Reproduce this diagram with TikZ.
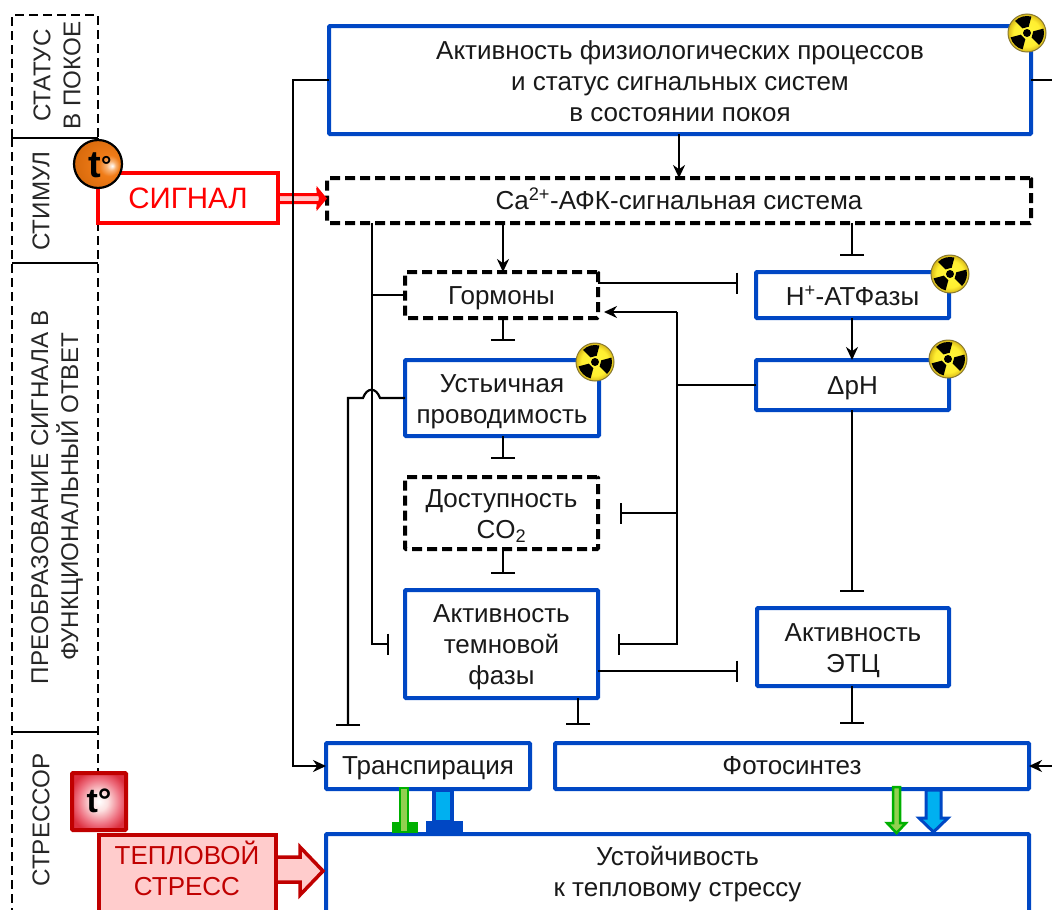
\documentclass[tikz,border=0pt]{standalone}
\usepackage{fontspec}
\setmainfont{Liberation Sans}
\usetikzlibrary{arrows.meta}
\definecolor{bblue}{HTML}{0047C4}
\definecolor{dred}{HTML}{C00000}
\definecolor{lred}{HTML}{FFCCCC}
\definecolor{gr}{HTML}{00B000}
\definecolor{lgr}{HTML}{92D050}
\definecolor{cyanb}{HTML}{00B0F0}
\definecolor{oa}{HTML}{F8B070}
\definecolor{ob}{HTML}{F07C18}
\definecolor{oc}{HTML}{D86A0C}
\definecolor{od}{HTML}{B05206}
\definecolor{ya}{HTML}{FFF83C}
\definecolor{yb}{HTML}{FFEE30}
\definecolor{yc}{HTML}{D8B818}
\definecolor{yd}{HTML}{8A7A30}
\definecolor{ra}{HTML}{FCE0E0}
\definecolor{rb}{HTML}{EE7080}
\definecolor{rc}{HTML}{DC3040}
\pgfdeclareradialshading{orangeball}{\pgfpoint{15bp}{-2bp}}{color(0bp)=(white);color(5bp)=(oa);color(11bp)=(ob);color(30bp)=(oc);color(50bp)=(od)}
\pgfdeclareradialshading{yelball}{\pgfpoint{0bp}{0bp}}{color(0bp)=(ya);color(18bp)=(yb);color(25bp)=(yc);color(50bp)=(yc)}
\pgfdeclareradialshading{redsq}{\pgfpoint{0bp}{0bp}}{color(0bp)=(white);color(8bp)=(ra);color(20bp)=(rb);color(28bp)=(rc);color(50bp)=(rc)}
\newcommand\dn[1]{\rule{0pt}{\dimexpr 18.6pt+#1pt+#1pt\relax}}
\tikzset{
  x=1pt,y=-1pt,
  txt/.style={font=\fontsize{26}{31}\selectfont,align=center,inner sep=0pt,outer sep=0pt,text=black!90},
  bbox/.style={txt,draw=bblue,line width=4pt,rounded corners=1pt},
  dbox/.style={txt,draw=black,line width=4pt,rounded corners=1pt,dash pattern=on 10pt off 5pt},
  link/.style={draw=black,line width=2.2pt},
  arr/.style={link,-{Stealth[length=13pt,width=12pt]}},
  teev/.style={link,-{Bar[width=24pt,line width=2.2pt]}},
  teeh/.style={link,-{Bar[width=21pt,line width=2.2pt]}},
  side/.style={font=\fontsize{24.2}{30}\selectfont,align=center,rotate=90,inner sep=0pt,text=black!85},
  colline/.style={draw=black,line width=1.6pt},
  coldash/.style={colline,dash pattern=on 9pt off 5pt},
  radsym/.pic={
    \begin{scope}[y=1pt]
    \shade[shading=yelball,draw=yd,line width=1pt] (0,0) circle (19);
    \fill[black] (0,0) circle (4);
    \foreach \a in {105,-15,225}{
      \fill[black] (\a-30:6.5) -- (\a-30:17) arc[start angle=\a-30,end angle=\a+30,radius=17] -- (\a+30:6.5) -- cycle;
    }
    \end{scope}
  }
}
\begin{document}
\begin{tikzpicture}
\useasboundingbox (0,0) rectangle (1052,910);
\clip (0,0) rectangle (1052,910);
% left column
\draw[coldash] (12,138) -- (12,15) -- (98,15) -- (98,138);
\draw[coldash] (12,138) -- (12,910);
\draw[coldash] (98,138) -- (98,771);
\draw[colline] (12,138) -- (98,138);
\draw[colline] (12,263) -- (98,263);
\draw[colline] (12,732) -- (98,732);
\node[side] (lab1) at (57,75.5) {СТАТУС\\В ПОКОЕ};
\node[side] (lab2) at (41,201) {СТИМУЛ};
\node[side] (lab3) at (57,497) {ПРЕОБРАЗОВАНИЕ СИГНАЛА В\\ФУНКЦИОНАЛЬНЫЙ ОТВЕТ};
\node[side] (lab4) at (41,820) {СТРЕССОР};

% boxes
\node[bbox,minimum width=702pt,minimum height=108pt] (rest) at (680,80) {\dn{1}Активность физиологических процессов\\и статус сигнальных систем\\в состоянии покоя};
\node[dbox,minimum width=704pt,minimum height=45pt] (ca) at (679,200.5) {Ca\smash{\textsuperscript{2+}}-АФК-сигнальная система};
\node[dbox,minimum width=193pt,minimum height=46pt] (horm) at (501.5,295) {\dn{3}Гормоны};
\node[bbox,minimum width=193pt,minimum height=46pt] (hatp) at (852.5,295) {\dn{1}H\smash{\textsuperscript{+}}-АТФазы};
\node[bbox,minimum width=193pt,minimum height=50pt] (dph) at (852.5,385) {\dn{3}ΔpH};
\node[bbox,minimum width=194pt,minimum height=76pt] (stom) at (502,398) {\dn{3}Устьичная\\проводимость};
\node[dbox,minimum width=193pt,minimum height=72pt] (co2) at (501.5,513) {\dn{3}Доступность\\CO\textsubscript{2}};
\node[bbox,minimum width=193pt,minimum height=108pt] (dark) at (501.5,644) {\dn{3}Активность\\темновой\\фазы};
\node[bbox,minimum width=192pt,minimum height=78pt] (etc) at (853,647) {\dn{3}Активность\\ЭТЦ};
\node[bbox,minimum width=204pt,minimum height=46pt] (trans) at (428,766) {\dn{2}Транспирация};
\node[bbox,minimum width=474pt,minimum height=46pt] (photo) at (792,766) {Фотосинтез};
\node[bbox,minimum width=703pt,minimum height=152pt,anchor=north] (resist) at (677.5,834) {};
\node[txt] (resisttxt) at (677.5,874.5) {Устойчивость\\к тепловому стрессу};

% signal
\path[draw=red,line width=3pt,fill=lred,line join=miter] (278,194.5) -- (318,194.5) -- (318,190) -- (325,198.5) -- (318,207) -- (318,202.5) -- (278,202.5) -- cycle;
\fill[red] (316,188) -- (327,198.5) -- (316,209) -- (319,198.5) -- cycle;
\node[draw=red,line width=4pt,inner sep=0pt,minimum width=180pt,minimum height=50pt,text=red,font=\fontsize{29.5}{30}\selectfont] (sig) at (188,198) {СИГНАЛ};
\shade[shading=orangeball,draw=black,line width=2.2pt] (98,164) circle (24);
\node[font=\bfseries\fontsize{38}{38}\selectfont,inner sep=0pt,text=black] (t1) at (100,165) {t\raisebox{3pt}{\fontsize{26}{26}\selectfont°}};

% stress
\shade[shading=redsq,draw=dred,line width=4pt,rounded corners=1pt] (72,773) rectangle (126,830);
\node[font=\bfseries\fontsize{34}{34}\selectfont,inner sep=0pt,text=black] (t2) at (99,801) {t°};
\path[draw=dred,line width=3.5pt,fill=lred] (276,857) -- (300,857) -- (300,847) -- (323,871) -- (300,895) -- (300,882) -- (276,882) -- cycle;
\node[draw=dred,line width=4pt,fill=lred,inner sep=0pt,minimum width=177pt,minimum height=160pt,anchor=north] (stress) at (187.2,832.5) {};
\node[txt,text=dred] (stresstxt) at (187,868) {ТЕПЛОВОЙ\\СТРЕСС};

% connectors
\coordinate (a1) at (293,80);
\coordinate (a2) at (293,766);
\draw[arr] (rest.west) -- (a1) -- (a2) -- (trans.west);
\coordinate (a3) at (1052,80);
\draw[link] (rest.east) -- (a3);
\coordinate (a4) at (1052,766);
\draw[arr] (a4) -- (photo.east);
\coordinate (b1) at (679,178);
\draw[arr] (rest.south -| b1) -- (ca.north -| b1);
\coordinate (c1) at (503,223);
\draw[arr] (ca.south -| c1) -- (horm.north -| c1);
\coordinate (c2) at (852,256);
\draw[teev] (ca.south -| c2) -- (c2);
\coordinate (c3) at (372,644);
\coordinate (c4) at (389,644);
\draw[teeh] (ca.south -| c3) -- (c3) -- (c4);
\draw[link] (horm.west) -- (horm.west -| c3);
\coordinate (d1) at (738,283);
\draw[teeh] (horm.east |- d1) -- (d1);
\coordinate (e1) at (677,312);
\coordinate (e2) at (677,644);
\coordinate (e3) at (618,644);
\coordinate (e4) at (620,513);
\coordinate (e5) at (604,312);
\draw[arr] (e1) -- (e5);
\draw[teeh] (e1) -- (e2) -- (e3);
\draw[link] (dph.west) -- (dph.west -| e1);
\draw[teeh] (e1 |- e4) -- (e4);
\coordinate (f1) at (738,671);
\draw[teeh] (dark.east |- f1) -- (f1);
\draw[arr] (hatp.south -| c2) -- (dph.north -| c2);
\coordinate (g1) at (852,592);
\draw[teev] (dph.south -| g1) -- (g1);
\coordinate (g2) at (852,724);
\draw[teev] (etc.south -| g2) -- (g2);
\coordinate (h1) at (503,341);
\draw[teev] (horm.south -| h1) -- (h1);
\coordinate (h2) at (503,459);
\draw[teev] (stom.south -| h2) -- (h2);
\coordinate (h3) at (503,574);
\draw[teev] (co2.south -| h3) -- (h3);
\coordinate (h4) at (578,725);
\draw[teev] (dark.south -| h4) -- (h4);
\coordinate (j1) at (380,398);
\coordinate (j2) at (363,398);
\coordinate (j3) at (348,398);
\coordinate (j4) at (348,726);
\draw[teev] (stom.west) -- (j1) .. controls (376,387) and (367,387) .. (j2) -- (j3) -- (j4);

% output arrows
\fill[gr] (392,822) rectangle (418,833);
\draw[draw=gr,fill=lgr,line width=2.5pt] (400,788) rectangle (408,832);
\draw[draw=bblue,fill=cyanb,line width=4pt] (434,790) rectangle (452,822);
\fill[bblue] (426,821) rectangle (463,833);
\draw[draw=gr,fill=lgr,line width=2.5pt,line join=miter] (893,787) -- (900,787) -- (900,823) -- (906,823) -- (896.5,833) -- (887,823) -- (893,823) -- cycle;
\draw[draw=bblue,fill=cyanb,line width=3pt,line join=miter] (926,790) -- (941,790) -- (941,818) -- (948,818) -- (933.5,832) -- (919,818) -- (926,818) -- cycle;

% hazard marks
\pic at (1027,33) {radsym};
\pic at (595,362) {radsym};
\pic at (950,274) {radsym};
\pic at (948,359) {radsym};
\end{tikzpicture}
\end{document}
